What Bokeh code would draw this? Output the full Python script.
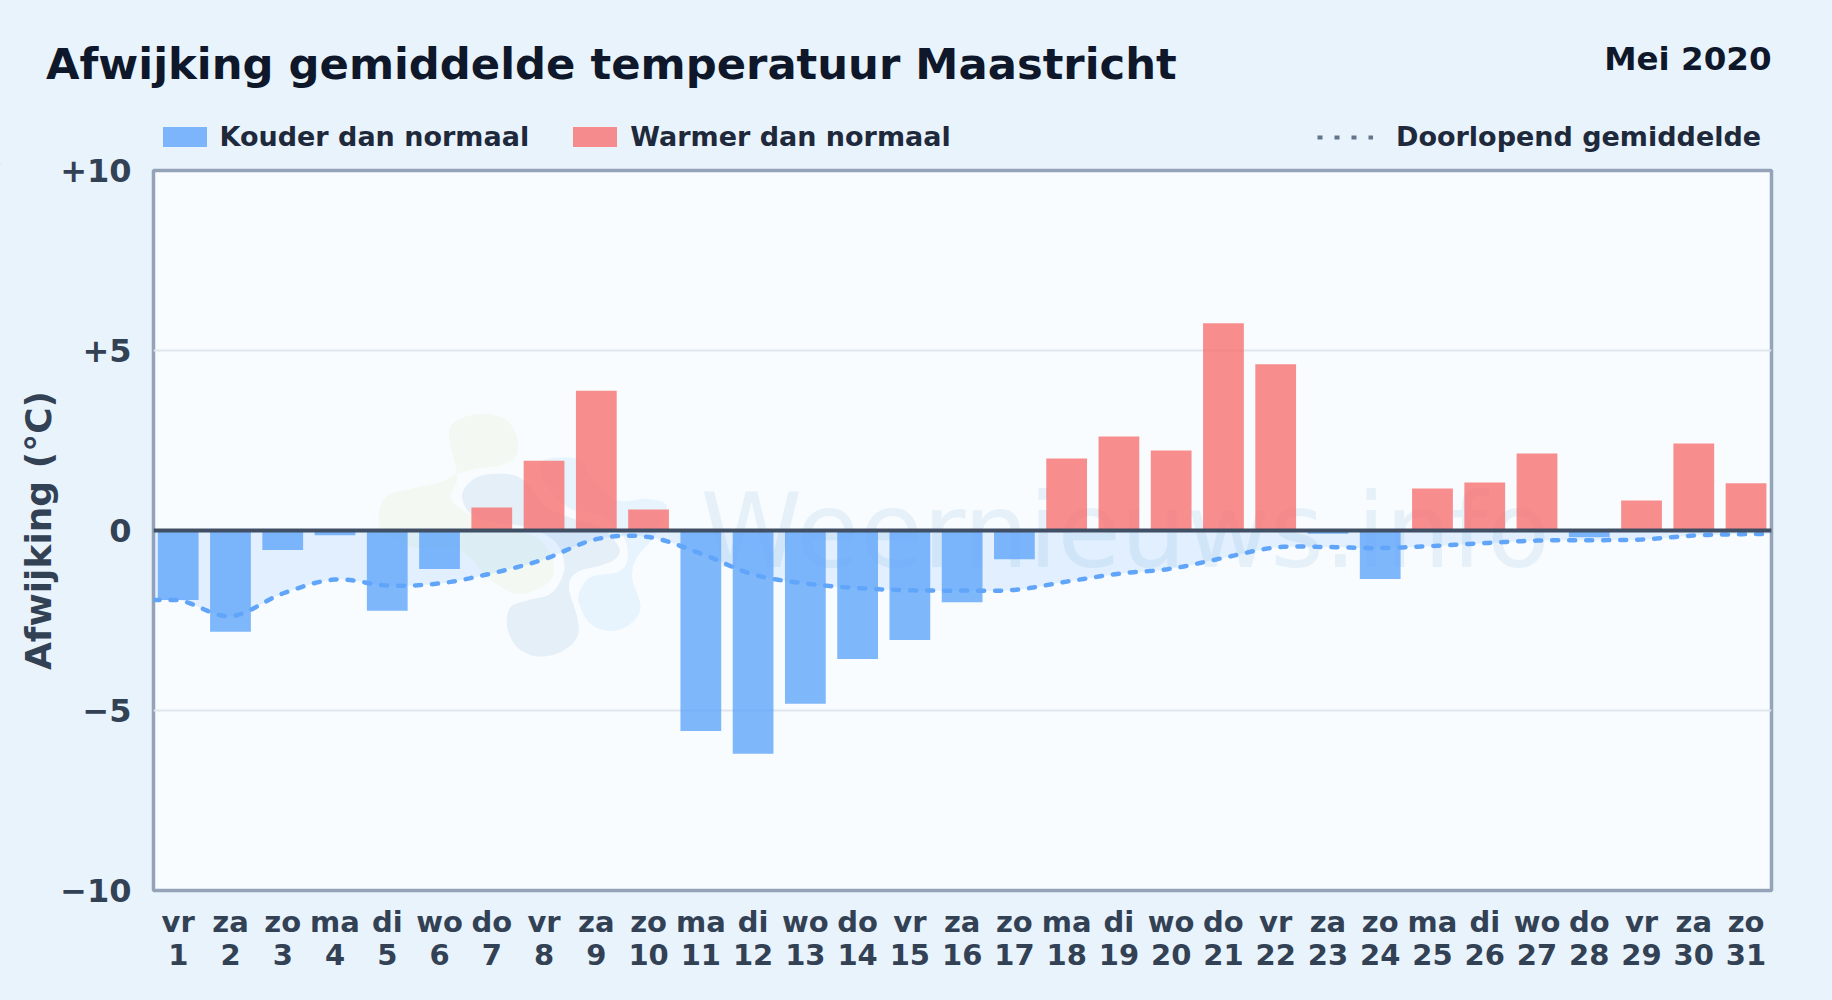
from bokeh.plotting import figure
from bokeh.embed import file_html
from bokeh.resources import INLINE
from bokeh.models import (Range1d, FixedTicker, Label, Span, Legend, LegendItem, LinearAxis,
                          PolyAnnotation, ColumnDataSource)
import numpy as np

# ---------- data ----------
days = list(range(1, 32))
weekdays = ["vr","za","zo","ma","di","wo","do","vr","za","zo","ma","di","wo","do","vr","za",
            "zo","ma","di","wo","do","vr","za","zo","ma","di","wo","do","vr","za","zo"]
deviation = [-1.93,-2.81,-0.54,-0.13,-2.23,-1.07,0.64,1.94,3.88,0.58,-5.57,-6.20,-4.81,-3.57,-3.04,-1.99,
             -0.80,2.00,2.61,2.22,5.76,4.62,-0.09,-1.35,1.17,1.33,2.14,-0.19,0.83,2.42,1.31]
running_mean = [-1.93,-2.38,-1.75,-1.36,-1.53,-1.47,-1.19,-0.80,-0.24,-0.18,-0.64,-1.22,-1.47,-1.60,-1.66,-1.67,
                -1.65,-1.42,-1.20,-1.06,-0.76,-0.47,-0.46,-0.49,-0.43,-0.35,-0.28,-0.27,-0.25,-0.14,-0.10]
y_ticks = [-10, -5, 0, 5, 10]
y_tick_labels = ["\u221210", "\u22125", "0", "+5", "+10"]
TITLE = "Afwijking gemiddelde temperatuur Maastricht"
PERIOD = "Mei 2020"
Y_LABEL = "Afwijking (\u00b0C)"
WATERMARK = "Weernieuws.info"
COLD_LABEL = "Kouder dan normaal"
WARM_LABEL = "Warmer dan normaal"
MEAN_LABEL = "Doorlopend gemiddelde"

FONT = "DejaVu Sans"
BG = "#e8f3fc"
COLD = "#60a5fa"
WARM = "#f87171"
HEADER_H = 165     # height of the header canvas
CHART_TOP = 148    # page y where the chart canvas begins (it overlaps the header's empty bottom)
X_MIN, X_MAX = 0.527, 31.487

def smooth(xs, ys, n=14):
    """Catmull-Rom curve through the given points, like the chart's smoothed line."""
    xs = np.array([xs[0] - 1.0] + list(xs) + [xs[-1] + 1.0], float)
    ys = np.array([ys[0]] + list(ys) + [ys[-1]], float)
    ox, oy = [], []
    for i in range(1, len(xs) - 2):
        t = np.linspace(0, 1, n, endpoint=False)
        def cr(p):
            return 0.5 * (2*p[i] + (p[i+1]-p[i-1])*t + (2*p[i-1]-5*p[i]+4*p[i+1]-p[i+2])*t**2
                          + (3*p[i]-p[i-1]-3*p[i+1]+p[i+2])*t**3)
        ox += list(cr(xs)); oy += list(cr(ys))
    ox.append(xs[-2]); oy.append(ys[-2])
    return ox, oy

# ---------- header strip: title, period, legends ----------
h = figure(width=1824, height=HEADER_H, frame_width=1824, frame_height=HEADER_H,
           x_range=Range1d(0, 1824), y_range=Range1d(0, HEADER_H),
           output_backend="svg", toolbar_location=None,
           min_border=0, background_fill_color=BG, border_fill_color=BG, outline_line_color=None)
h.xaxis.visible = False
h.yaxis.visible = False
h.grid.visible = False

hy = lambda y: HEADER_H - y
h.add_layout(Label(x=45.5, y=hy(63), x_units="screen", y_units="screen", text=TITLE,
                   text_font=FONT, text_font_size="43.3px", text_font_style="bold",
                   text_color="#0f172a", text_baseline="alphabetic"))
h.add_layout(Label(x=1771, y=hy(58.5), x_units="screen", y_units="screen", text=PERIOD,
                   text_font=FONT, text_font_size="32.5px", text_font_style="bold",
                   text_color="#0f172a", text_align="right", text_baseline="alphabetic"))

# off-range samples: these glyphs only supply the legend keys
key_cold = h.vbar(x=[-100], top=[1], bottom=0, width=1, fill_color=COLD, fill_alpha=0.8, line_alpha=0)
key_warm = h.vbar(x=[-100], top=[1], bottom=0, width=1, fill_color=WARM, fill_alpha=0.8, line_alpha=0)
key_mean = h.line(x=[-100, -99], y=[1, 1], line_color="#64748b", line_width=4, line_dash="5 12")

def legend(items, x, glyph_w, glyph_h, standoff, spacing):
    h.add_layout(Legend(items=items, location=(x, hy(152)), orientation="horizontal",
                        background_fill_alpha=0, border_line_alpha=0, padding=0, margin=0,
                        glyph_width=glyph_w, glyph_height=glyph_h, label_standoff=standoff, spacing=spacing,
                        label_text_font=FONT, label_text_font_size="27px", label_text_font_style="bold",
                        label_text_color="#1e293b", label_text_baseline="middle"))

legend([LegendItem(label=COLD_LABEL, renderers=[key_cold]),
        LegendItem(label=WARM_LABEL, renderers=[key_warm])], 156.5, 55, 25, 8, 38)
legend([LegendItem(label=MEAN_LABEL, renderers=[key_mean])], 1317, 56, 20, 23, 45)

# ---------- main chart ----------
p = figure(width=1824, height=992 - CHART_TOP, frame_width=1618, frame_height=720,
           x_range=Range1d(X_MIN, X_MAX), y_range=Range1d(-10, 10),
           output_backend="svg", toolbar_location=None,
           min_border_left=153, min_border_right=53, min_border_top=170 - CHART_TOP, min_border_bottom=102,
           background_fill_color="#f8fcff", border_fill_color=BG, border_fill_alpha=0,
           outline_line_color="#94a3b8", outline_line_width=3.5,
           styles={"margin-top": "%dpx" % (CHART_TOP - HEADER_H)})

# helpers: page pixels of the decorative, non-data elements -> frame-relative screen units
fx = lambda x: x - 153.0
fy = lambda y: 890.0 - y

# ---------- watermark ----------
def blob(points, fill):
    pts = np.array(points, float)
    xs = 360 + pts[:, 0] / 3
    ys = 390 + pts[:, 1] / 3
    cx = list(xs[-1:]) + list(xs) + list(xs[:2])
    cy = list(ys[-1:]) + list(ys) + list(ys[:2])
    sx, sy = [], []
    for i in range(1, len(cx) - 2):
        for t in np.linspace(0, 1, 8, endpoint=False):
            f = lambda q: 0.5*(2*q[i]+(q[i+1]-q[i-1])*t+(2*q[i-1]-5*q[i]+4*q[i+1]-q[i+2])*t*t
                               +(3*q[i]-q[i-1]-3*q[i+1]+q[i+2])*t**3)
            sx.append(fx(f(cx))); sy.append(fy(f(cy)))
    p.add_layout(PolyAnnotation(xs=sx, ys=sy, xs_units="screen", ys_units="screen",
                                fill_color=fill, fill_alpha=1, line_alpha=0, level="underlay"))

blob([(265,130),(300,85),(370,70),(440,90),(472,150),(465,200),(420,225),(350,235),(290,250),(240,275),
      (150,295),(80,315),(55,370),(70,430),(160,470),(300,480),(380,560),(470,610),(560,580),(580,520),
      (540,450),(470,420),(380,400),(310,360),(270,320),(290,260)], "#f3f9f2")
blob([(305,310),(350,260),(430,250),(490,270),(560,350),(640,385),(720,410),(775,470),(765,505),(720,525),
      (650,545),(625,590),(650,680),(650,740),(600,785),(530,798),(470,770),(440,710),(450,650),(500,630),
      (570,610),(605,560),(610,510),(580,450),(500,410),(400,395),(330,370)], "#e5eff8")
blob([(540,215),(650,205),(700,270),(770,330),(860,325),(920,350),(880,440),(830,500),(815,560),(840,650),
      (810,700),(750,722),(690,700),(660,650),(655,610),(690,560),(770,545),(800,510),(790,440),(720,375),
      (630,355),(570,300)], "#e8f4fd")
p.add_layout(Label(x=fx(700), y=fy(530), x_units="screen", y_units="screen", text=WATERMARK,
                   text_font=FONT, text_font_size="103px", text_color="#e5f0f9",
                   text_baseline="alphabetic", level="underlay"))

# ---------- grid ----------
p.xgrid.visible = False
p.ygrid.ticker = FixedTicker(ticks=[-5, 5])
p.ygrid.grid_line_color = "#dfe5ec"
p.ygrid.grid_line_width = 2

# ---------- area, bars, line ----------
lx, ly = smooth(days, running_mean)
lx = [X_MIN] + lx + [X_MAX]
ly = [running_mean[0]] + ly + [running_mean[-1]]
p.varea(x=lx, y1=ly, y2=[0.0] * len(lx), fill_color=COLD, fill_alpha=0.15)

cold_src = ColumnDataSource(dict(x=[d for d, v in zip(days, deviation) if v < 0],
                                 top=[v for v in deviation if v < 0]))
warm_src = ColumnDataSource(dict(x=[d for d, v in zip(days, deviation) if v >= 0],
                                 top=[v for v in deviation if v >= 0]))
p.vbar(x="x", top="top", bottom=0, width=0.78, source=cold_src,
       fill_color=COLD, fill_alpha=0.8, line_alpha=0)
p.vbar(x="x", top="top", bottom=0, width=0.78, source=warm_src,
       fill_color=WARM, fill_alpha=0.8, line_alpha=0)

p.add_layout(Span(location=0, dimension="width", line_color="#414f64", line_width=4))
p.line(lx, ly, line_color=COLD, line_width=4.5, line_dash="6 11", line_cap="round")

# ---------- axes ----------
ax = p.xaxis[0]
ax.ticker = FixedTicker(ticks=days)
ax.major_label_overrides = dict(zip(days, weekdays))
ax2 = LinearAxis(ticker=FixedTicker(ticks=days),
                 major_label_overrides={d: str(d) for d in days})
p.add_layout(ax2, "below")
ay = p.yaxis[0]
ay.ticker = FixedTicker(ticks=y_ticks)
ay.major_label_overrides = dict(zip(y_ticks, y_tick_labels))
ay.axis_label = Y_LABEL
ay.axis_label_text_font = FONT
ay.axis_label_text_font_size = "36px"
ay.axis_label_text_font_style = "bold"
ay.axis_label_text_color = "#334155"
ay.axis_label_standoff = -2
for a in (ax, ax2, ay):
    a.axis_line_color = None
    a.major_tick_line_color = None
    a.minor_tick_line_color = None
    a.major_label_text_font = FONT
    a.major_label_text_font_size = "29px"
    a.major_label_text_font_style = "bold"
    a.major_label_text_color = "#334155"
ay.major_label_text_font_size = "32px"
ax.major_label_standoff = 8
ax2.major_label_standoff = -4
ay.major_label_standoff = 16

html = file_html([h, p], INLINE)
html = html.replace("<head>", "<head><style>html,body{background:%s}</style>" % BG, 1)
open("out.html", "w").write(html)
